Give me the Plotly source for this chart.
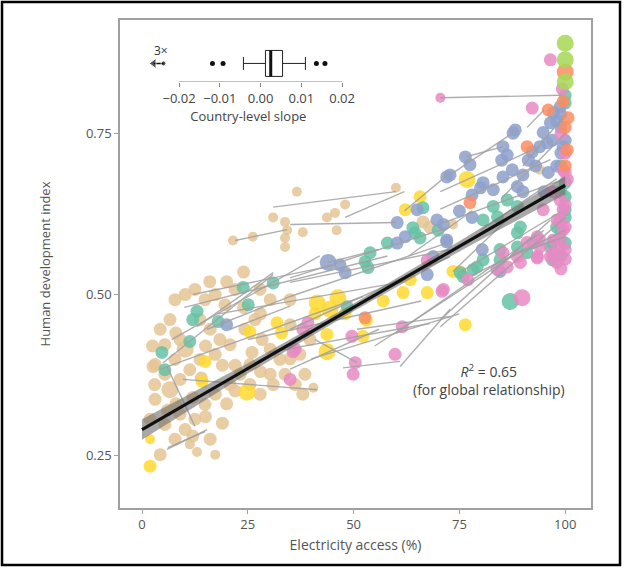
import plotly.graph_objects as go

# ---------------- data ----------------
# each point: (electricity access %, HDI, population class)
tan_pts = [
    (4.3,0.446,2),(5.4,0.422,2),(6.6,0.461,2),(7.8,0.492,2),(10.2,0.500,2),(12.5,0.508,2),(14.9,0.492,2),
    (17.3,0.500,2),(19.6,0.484,2),(13.7,0.461,2),(16.1,0.446,2),(18.4,0.430,2),(10.2,0.415,3),(7.8,0.399,2),
    (5.4,0.376,2),(3.1,0.391,2),(6.6,0.352,3),(9.0,0.368,2),(11.3,0.383,2),(13.7,0.399,2),(17.3,0.407,2),
    (20.8,0.422,2),(24.3,0.446,2),(26.7,0.461,2),(28.4,0.430,2),(30.3,0.415,2),(32.6,0.399,2),(25.5,0.391,2),
    (23.2,0.376,2),(20.8,0.360,2),(17.3,0.345,2),(14.9,0.329,2),(12.5,0.306,2),(10.2,0.290,2),(7.8,0.275,2),
    (11.3,0.267,1),(4.3,0.251,2),(1.9,0.306,2),(3.1,0.337,2),(25.5,0.360,2),(27.9,0.345,2),(30.3,0.376,2),
    (33.8,0.376,2),(36.2,0.360,2),(38.5,0.376,2),(37.3,0.407,2),(39.7,0.430,2),(35.0,0.453,2),(35.0,0.492,2),
    (27.9,0.508,2),(30.3,0.492,2),(22.0,0.508,2),(9.0,0.314,2),(5.4,0.298,2),(16.1,0.275,2),(17.3,0.251,1),
    (21.5,0.584,1),(26.2,0.590,1),(31.0,0.620,1),(33.8,0.613,1),(34.3,0.600,1),(33.8,0.588,1),(33.8,0.574,1),
    (36.6,0.660,1),(38.0,0.597,1),(43.7,0.620,1),(45.6,0.627,1),(48.0,0.640,1),(60.0,0.666,1),(46.0,0.600,1),
    (66.4,0.613,2),(68.0,0.605,2),(73.5,0.609,1),(38.0,0.345,2),(40.5,0.355,1),(20.0,0.520,2),(24.0,0.535,2),
    (16.0,0.520,2),(8.0,0.440,2),(2.5,0.420,2),(14.0,0.370,2),(22.0,0.390,2),(19.0,0.300,2),(13.0,0.255,1),
    (2.6,0.388,2),(94.0,0.694,1),(8.0,0.330,2),(12.0,0.340,2),(15.0,0.310,2),(20.0,0.330,2),(22.0,0.350,2),
    (28.0,0.380,2),(31.0,0.360,2),(35.0,0.400,2),(3.0,0.360,2),(9.0,0.430,2),(15.0,0.420,2),(19.0,0.390,2),
    (26.0,0.410,2),(24.0,0.480,2),(28.0,0.470,2),(12.0,0.280,2),(6.0,0.320,2),
]
yellow_pts = [
    (1.9,0.233,2),(14.9,0.396,2),(14.2,0.365,2),(24.8,0.348,3),(1.9,0.275,1),(41.4,0.487,3),(44.4,0.477,3),
    (46.3,0.495,3),(43.7,0.438,2),(43.7,0.411,3),(25.5,0.442,2),(31.9,0.456,2),(52.2,0.435,2),(63.4,0.523,2),
    (67.4,0.503,2),(61.7,0.503,2),(65.7,0.652,2),(62.2,0.632,2),(76.8,0.679,3),(73.5,0.536,2),(75.2,0.535,2),
    (76.4,0.453,2),(40.9,0.470,2),(48.0,0.470,2),(53.0,0.460,2),(57.0,0.490,2),(33.0,0.440,2),
]
green_pts = [
    (23.9,0.511,2),(31.0,0.518,2),(25.1,0.484,2),(13.0,0.474,2),(18.0,0.458,2),(4.7,0.410,2),(5.4,0.383,2),
    (12.0,0.461,2),(11.3,0.427,2),(53.9,0.565,2),(52.7,0.551,2),(53.4,0.542,2),(64.0,0.604,2),(65.7,0.588,2),
    (64.5,0.596,2),(66.4,0.635,2),(48.5,0.481,2),(83.0,0.637,2),(86.3,0.647,2),(88.7,0.637,2),(84.0,0.621,2),
    (80.6,0.616,2),(88.7,0.596,2),(89.4,0.605,2),(84.6,0.570,2),(80.6,0.554,2),(78.3,0.539,2),(75.2,0.534,2),
    (100,0.674,2),(100,0.652,2),(100,0.632,2),(98.0,0.605,2),(96.5,0.574,2),(97.0,0.554,2),(87.0,0.489,3),
    (88.7,0.574,2),(91.0,0.565,2),(92.4,0.580,2),(97.0,0.580,2),(98.8,0.588,2),(84.6,0.554,2),(79.2,0.543,2),
    (75.9,0.528,2),(100,0.810,2),(100,0.798,2),(99.0,0.700,2),(70.0,0.600,2),(58.0,0.580,2),(99.0,0.660,2),
    (100,0.620,2),(99.0,0.600,2),(100,0.580,2),(99.0,0.560,2),
]
blue_pts = [
    (20.0,0.453,2),(44.0,0.550,3),(46.8,0.546,2),(48.0,0.534,2),(60.3,0.612,2),(60.3,0.580,2),(62.2,0.590,2),
    (72.0,0.683,2),(69.7,0.616,2),(71.2,0.609,2),(72.0,0.585,2),(68.8,0.559,2),(65.0,0.632,2),(67.4,0.531,2),
    (88.2,0.756,2),(87.7,0.751,2),(85.3,0.730,2),(86.3,0.717,2),(85.0,0.709,2),(76.4,0.714,2),(77.5,0.702,2),
    (72.8,0.686,2),(80.0,0.666,2),(78.0,0.655,2),(87.5,0.694,2),(90.0,0.686,2),(91.3,0.709,2),(92.2,0.722,2),
    (94.0,0.730,2),(95.7,0.736,2),(94.8,0.752,2),(96.5,0.767,2),(97.2,0.783,2),(98.8,0.792,2),(80.6,0.674,2),
    (85.3,0.683,2),(83.0,0.663,2),(88.7,0.668,2),(72.0,0.582,2),(80.4,0.570,2),(84.6,0.536,2),(97.0,0.740,2),
    (99.0,0.720,2),(98.0,0.700,2),(96.0,0.690,2),(99.0,0.760,2),(93.0,0.700,2),(90.0,0.660,2),(95.0,0.660,2),
    (75.0,0.630,2),(78.0,0.620,2),(99.0,0.780,2),(98.0,0.770,2),(100,0.740,2),(99.5,0.730,2),
]
pink_pts = [
    (99.5,0.694,2),(100.5,0.679,2),(98.8,0.647,2),(99.5,0.632,2),(98.1,0.616,2),(99.5,0.601,2),(97.2,0.585,2),
    (98.8,0.570,2),(96.5,0.559,2),(94.1,0.574,2),(93.4,0.559,2),(94.8,0.632,2),(88.7,0.559,2),(85.3,0.565,2),
    (86.3,0.543,2),(83.9,0.539,2),(91.0,0.581,2),(93.4,0.590,2),(39.2,0.456,2),(38.0,0.446,2),(35.7,0.411,2),
    (35.0,0.368,2),(50.4,0.394,2),(49.9,0.376,2),(49.6,0.435,2),(36.2,0.415,2),(61.5,0.450,2),(70.9,0.505,2),
    (67.4,0.553,2),(59.8,0.407,2),(89.8,0.495,3),(71.2,0.508,2),(77.0,0.523,2),(96.5,0.865,2),(70.5,0.806,1),
    (92.2,0.790,2),(99.3,0.820,2),(99.0,0.750,2),(100,0.720,2),(97.0,0.660,2),(89.4,0.550,2),(93.4,0.557,2),
    (94.0,0.585,2),(97.2,0.565,2),(98.8,0.585,2),(100,0.605,2),(98.8,0.616,2),(100,0.570,2),(100,0.555,2),
    (99.0,0.540,2),(98.0,0.550,2),(100,0.640,2),(100,0.690,2),
]
orange_pts = [
    (100,0.846,3),(91.0,0.730,2),(96.0,0.787,2),(100.7,0.775,2),(100.5,0.725,2),(77.5,0.643,2),(52.7,0.464,2),
    (100,0.760,2),(99.5,0.800,2),(100,0.700,2),
]
lightgreen_pts = [(100,0.891,3),(100,0.865,3),(100,0.831,3)]

# country-level trajectories (start x, start y, end x, end y)
trajectories = [
    (70.5,0.806,99,0.810),(31,0.636,60,0.660),(22,0.584,34.3,0.601),(35,0.609,60,0.612),(13,0.450,31,0.534),
    (15.4,0.446,35,0.497),(20.8,0.446,35,0.482),(35,0.526,72.8,0.605),(35,0.497,72,0.580),(5,0.394,31,0.531),
    (4.3,0.384,52.2,0.497),(9.7,0.368,41.4,0.352),(5.9,0.259,15.4,0.290),(35,0.384,56,0.446),(47.5,0.386,61,0.396),
    (61,0.388,72.8,0.477),(40.9,0.430,50.8,0.394),(50.8,0.446,72.8,0.466),(35,0.446,72.8,0.559),(35,0.519,72.8,0.570),
    (70.5,0.461,96.5,0.616),(70.5,0.450,100,0.620),(75.2,0.535,98.8,0.628),(72.8,0.686,88.7,0.756),(76.4,0.714,85.3,0.730),
    (70.5,0.660,94,0.730),(70.5,0.633,96.5,0.710),(70.5,0.610,100,0.680),(91,0.760,95,0.787),(5.9,0.388,12.5,0.295),
    (6.1,0.262,14.9,0.287),(7,0.430,42,0.560),(10,0.480,58,0.560),(12,0.500,45,0.545),(18,0.470,62,0.520),
    (25,0.430,66,0.490),(30,0.410,68,0.455),(40,0.400,75,0.470),(55,0.420,90,0.570),(60,0.440,95,0.600),
    (78,0.530,100,0.600),(80,0.600,98,0.680),(85,0.650,100,0.750),(90,0.700,100,0.780),(62,0.630,72,0.685),
    (48,0.620,62,0.660),(44,0.550,56,0.570),(63,0.560,78,0.630),(87,0.560,100,0.590),(73.5,0.536,90,0.640),
]

# global fit
reg_x = [0, 25, 50, 75, 100]
reg_y = [0.290, 0.385, 0.480, 0.575, 0.670]
reg_lo = [0.274, 0.377, 0.474, 0.567, 0.656]
reg_hi = [0.306, 0.393, 0.486, 0.583, 0.684]

# inset: distribution of country-level slopes
slope_q1, slope_med, slope_q3 = 0.0012, 0.0025, 0.0054
slope_lo, slope_hi = -0.0042, 0.011
slope_outliers = [-0.0118, -0.0092, 0.0137, 0.0158]
offscale_slope = [-0.0262, -0.0238]   # 3 countries beyond the axis (arrow tip, dot)
slope_ticks = [-0.02, -0.01, 0.0, 0.01, 0.02]
slope_ticktext = ['\u22120.02', '\u22120.01', '0.00', '0.01', '0.02']

x_ticks = [0, 25, 50, 75, 100]
y_ticks = [0.25, 0.50, 0.75]
y_ticktext = ['0.25', '0.50', '0.75']

groups = [
    (tan_pts, '#e5c494'), (yellow_pts, '#ffd92f'), (green_pts, '#66c2a5'), (blue_pts, '#8da0cb'),
    (pink_pts, '#e78ac3'), (orange_pts, '#fc8d62'), (lightgreen_pts, '#a6d854'),
]
size_map = {1: 10, 2: 13, 3: 17}

FONT = 'Open Sans'
fig = go.Figure()

for pts, col in groups:
    fig.add_trace(go.Scatter(
        x=[p[0] for p in pts], y=[p[1] for p in pts], mode='markers',
        marker=dict(color=col, size=[size_map[p[2]] for p in pts], opacity=0.85, line=dict(width=0)),
        showlegend=False, hoverinfo='skip'))

lx, ly = [], []
for x0, y0, x1, y1 in trajectories:
    lx += [x0, x1, None]
    ly += [y0, y1, None]
fig.add_trace(go.Scatter(x=lx, y=ly, mode='lines', line=dict(color='rgba(160,160,160,0.85)', width=1.4),
                         showlegend=False, hoverinfo='skip'))

# confidence band + fit line
fig.add_trace(go.Scatter(x=reg_x + reg_x[::-1], y=reg_hi + reg_lo[::-1], fill='toself',
                         fillcolor='rgba(110,110,110,0.6)', line=dict(width=0), mode='lines',
                         showlegend=False, hoverinfo='skip'))
fig.add_trace(go.Scatter(x=reg_x, y=reg_y, mode='lines', line=dict(color='#111', width=3.2),
                         showlegend=False, hoverinfo='skip'))

# inset box plot
fig.add_trace(go.Box(q1=[slope_q1], median=[slope_med], q3=[slope_q3], lowerfence=[slope_lo],
                     upperfence=[slope_hi], y=[0.5], orientation='h', xaxis='x2', yaxis='y2',
                     width=0.7, fillcolor='white', line=dict(color='#222', width=1), boxpoints=False,
                     showlegend=False, hoverinfo='skip'))
fig.add_trace(go.Scatter(x=[slope_med, slope_med], y=[0.15, 0.85], mode='lines', xaxis='x2', yaxis='y2',
                         line=dict(color='#111', width=3), showlegend=False, hoverinfo='skip'))
fig.add_trace(go.Scatter(x=slope_outliers, y=[0.5] * len(slope_outliers), mode='markers', xaxis='x2',
                         yaxis='y2', marker=dict(color='#111', size=5), showlegend=False, hoverinfo='skip'))
fig.add_trace(go.Scatter(x=offscale_slope, y=[0.5, 0.5], mode='lines+markers', xaxis='x2', yaxis='y2',
                         line=dict(color='#111', width=1.5),
                         marker=dict(color='#111', size=[9, 5], symbol=['triangle-left', 'circle']),
                         showlegend=False, hoverinfo='skip'))
fig.add_annotation(x=-0.0245, y=0.86, xref='x2', yref='y2', text='3\u00d7', showarrow=False,
                   font=dict(family=FONT, size=12, color='#333'))
fig.add_shape(type='line', xref='x2', yref='y2', x0=slope_ticks[0], x1=slope_ticks[-1], y0=0, y1=0,
              line=dict(color='#888', width=1))

fig.add_annotation(x=82.0, y=0.367, xref='x', yref='y',
                   text='<i>R</i><sup>2</sup> = 0.65<br>(for global relationship)', showarrow=False,
                   font=dict(family=FONT, size=14, color='#444'), align='center')

# outer border
fig.add_shape(type='rect', xref='paper', yref='paper', x0=-0.2505, x1=1.0616, y0=-0.1168, y1=1.0369,
              line=dict(color='black', width=2.5), layer='above')

fig.update_layout(
    width=624, height=569, margin=dict(l=120, r=33, t=20, b=61),
    paper_bgcolor='white', plot_bgcolor='white', font=dict(family=FONT, color='#555'),
    xaxis=dict(range=[-5.2, 106.1], tickvals=x_ticks, showgrid=False, zeroline=False, showline=True,
               mirror=True, linecolor='#a0a0a0', linewidth=1.5, ticks='outside', ticklen=4,
               tickcolor='#a0a0a0', tickfont=dict(size=13, color='#555'),
               title=dict(text='Electricity access (%)', font=dict(size=14, color='#555'), standoff=8)),
    yaxis=dict(range=[0.168, 0.927], tickvals=y_ticks, ticktext=y_ticktext, showgrid=False, zeroline=False,
               showline=True, mirror=True, linecolor='#a0a0a0', linewidth=1.5, ticks='outside', ticklen=4,
               tickcolor='#a0a0a0', tickfont=dict(size=13, color='#555'),
               title=dict(text='Human development index', font=dict(size=13, color='#555'), standoff=32)),
    xaxis2=dict(domain=[0.0561, 0.4888], anchor='y2', range=[-0.028, 0.022], tickvals=slope_ticks,
                ticktext=slope_ticktext, showgrid=False, zeroline=False, showline=False, ticks='outside',
                ticklen=4, tickcolor='#888', tickfont=dict(size=13, color='#444'),
                title=dict(text='Country-level slope', font=dict(size=13, color='#444'), standoff=4)),
    yaxis2=dict(domain=[0.873, 0.949], anchor='x2', range=[0, 1], visible=False),
)

fig.write_html('out.html')
